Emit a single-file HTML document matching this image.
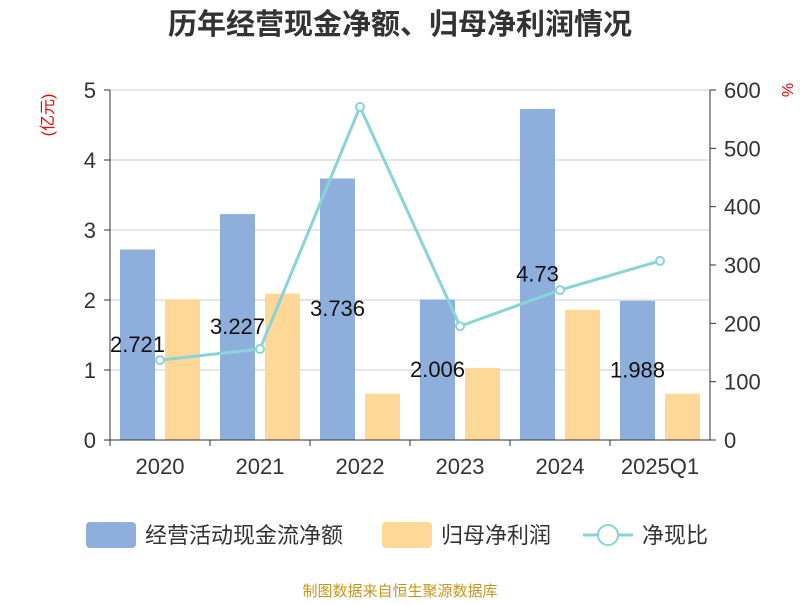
<!DOCTYPE html>
<html><head><meta charset="utf-8"><style>
body{margin:0;background:#fff;font-family:"Liberation Sans","Noto Sans CJK SC",sans-serif;}
svg text{font-family:"Liberation Sans","Noto Sans CJK SC",sans-serif;}
</style></head><body>
<svg id="chart" width="800" height="600">
<text x="400" y="34" text-anchor="middle" font-size="29" font-weight="bold" fill="#333">历年经营现金净额、归母净利润情况</text>
<text transform="translate(53,115) rotate(-90)" text-anchor="middle" font-size="16" fill="#e00">(亿元)</text>
<text transform="translate(782,90) rotate(90)" text-anchor="middle" font-size="16" fill="#e00">%</text>
<g id="grid"></g><g id="bars"></g><g id="line"></g><g id="labels"></g><g id="axes"></g>
<g>
<rect x="86" y="522" width="50" height="26" rx="4" fill="#8eaedb"/>
<text x="145" y="543" font-size="22" fill="#333">经营活动现金流净额</text>
<rect x="382" y="522" width="50" height="26" rx="4" fill="#ffd797"/>
<text x="441" y="543" font-size="22" fill="#333">归母净利润</text>
<line x1="583" y1="535" x2="633" y2="535" stroke="#88d4d8" stroke-width="3"/>
<circle cx="608" cy="535" r="10" fill="#fff" stroke="#88d4d8" stroke-width="2"/>
<text x="642" y="543" font-size="22" fill="#333">净现比</text>
</g>
<text x="400" y="596" text-anchor="middle" font-size="15" fill="#c8961e">制图数据来自恒生聚源数据库</text>
</svg>
<script>
const categories=["2020","2021","2022","2023","2024","2025Q1"];
const cashFlow=[2.721,3.227,3.736,2.006,4.73,1.988];
const netProfit=[2.01,2.09,0.66,1.03,1.86,0.66];
const ratio=[137,156,571,195,257,307];
const leftTicks=[0,1,2,3,4,5];
const rightTicks=[0,100,200,300,400,500,600];
const NS="http://www.w3.org/2000/svg";
const X0=110,X1=710,Y0=440,Y1=90;
const band=(X1-X0)/categories.length;
const yL=v=>Y0-v/5*(Y0-Y1);
const yR=v=>Y0-v/600*(Y0-Y1);
function mk(p,tag,a){const e=document.createElementNS(NS,tag);for(const k in a)e.setAttribute(k,a[k]);document.getElementById(p).appendChild(e);return e;}
leftTicks.forEach(t=>{
 const g=mk("grid","line",{x1:X0,x2:X1,y1:yL(t),y2:yL(t),stroke:"#ccc","stroke-width":1});
 
 
 const tx=mk("axes","text",{x:X0-14,y:yL(t)+8,"text-anchor":"end","font-size":22,fill:"#333"});tx.textContent=t;
 
 
 mk("axes","line",{x1:X0-6,x2:X0,y1:yL(t),y2:yL(t),stroke:"#333"});
});
rightTicks.forEach(t=>{
 const tx=mk("axes","text",{x:X1+14,y:yR(t)+8,"font-size":22,fill:"#333"});tx.textContent=t;
 
 
 mk("axes","line",{x1:X1,x2:X1+6,y1:yR(t),y2:yR(t),stroke:"#333"});
});
mk("axes","line",{x1:X0,x2:X0,y1:Y1,y2:Y0,stroke:"#333"});
mk("axes","line",{x1:X1,x2:X1,y1:Y1,y2:Y0,stroke:"#333"});
mk("axes","line",{x1:X0,x2:X1,y1:Y0,y2:Y0,stroke:"#333"});
categories.forEach((c,i)=>{
 const bx=X0+i*band;
 mk("axes","line",{x1:bx,x2:bx,y1:Y0,y2:Y0+6,stroke:"#333"});
 const tx=mk("axes","text",{x:bx+band/2,y:474,"text-anchor":"middle","font-size":22,fill:"#333"});tx.textContent=c;
 
 
 const b=mk("bars","rect",{x:bx+10,y:yL(cashFlow[i]),width:35,height:Y0-yL(cashFlow[i]),fill:"#8eaedb"});
 
 
 const o=mk("bars","rect",{x:bx+55,y:yL(netProfit[i]),width:35,height:Y0-yL(netProfit[i]),fill:"#ffd797"});
 
 
 const l=mk("labels","text",{x:bx+27.5,y:(yL(cashFlow[i])+Y0)/2+7,"text-anchor":"middle","font-size":22,fill:"#111"});l.textContent=cashFlow[i];
 
 
});
const pts=ratio.map((v,i)=>[X0+i*band+band/2,yR(v)]);
const pl=mk("line","polyline",{points:pts.map(p=>p.join(",")).join(" "),fill:"none",stroke:"#88d4d8","stroke-width":3});


pts.forEach(p=>{
 const c=mk("line","circle",{cx:p[0],cy:p[1],r:4,fill:"#fff",stroke:"#88d4d8","stroke-width":2});
 
 
});
</script>
</body></html>
